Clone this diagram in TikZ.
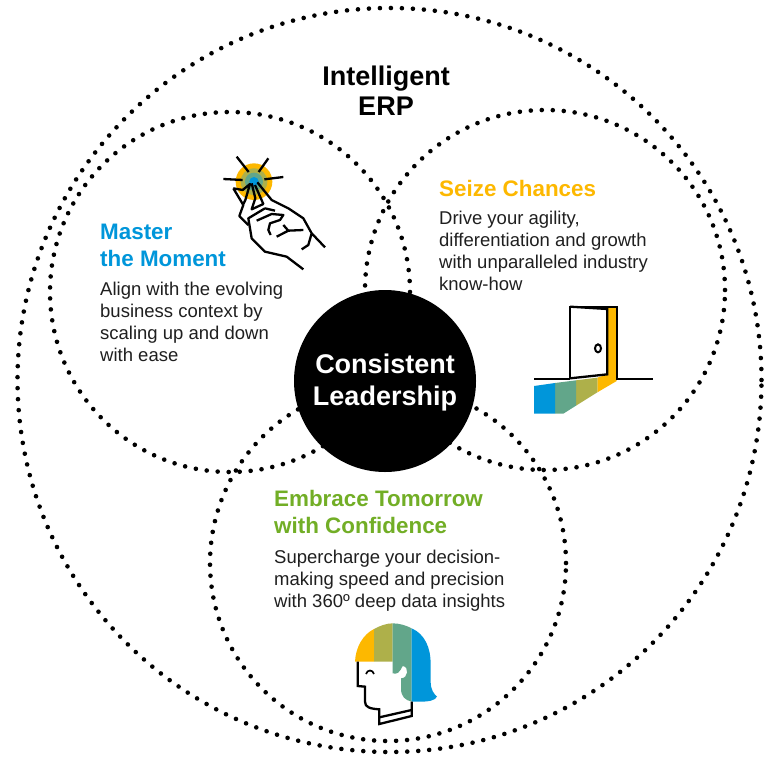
\documentclass[tikz,border=0pt]{standalone}
\usepackage{fontspec}
\setmainfont{Liberation Sans}
\definecolor{cblue}{HTML}{0096DA}
\definecolor{cteal}{HTML}{62A68A}
\definecolor{colive}{HTML}{AEB04A}
\definecolor{cgold}{HTML}{FDB800}
\definecolor{cgreen}{HTML}{72AE26}
\tikzset{
  dotc/.style={draw=black,line width=4.6pt,line cap=round,dash pattern=on 0pt off 11pt,fill=none,circle,inner sep=0pt,outer sep=0pt},
  ink/.style={draw=black,line width=2.3pt,line join=round,fill=none},
  body/.style={anchor=north west,align=left,font=\fontsize{18.5}{21.8}\selectfont,inner sep=0pt,text=black!88},
  head/.style={anchor=north west,align=left,font=\fontsize{22.4}{27}\selectfont\bfseries,inner sep=0pt},
}
\begin{document}
\begin{tikzpicture}[x=1pt,y=-1pt]
\useasboundingbox (0,0) rectangle (767,757);
\fill[white] (0,0) rectangle (767,757);
% dotted circles
\node[dotc,minimum size=744] (outer) at (389.5,380) {};
\node[dotc,minimum size=360] (master) at (230,292) {};
\node[dotc,minimum size=360] (seize) at (545,290) {};
\node[dotc,minimum size=356] (embrace) at (388,563) {};
% centre
\node[circle,fill=black,minimum size=182,inner sep=0pt] (centre) at (385,381) {};
\node[text=white,inner sep=0pt,align=center,font=\fontsize{27}{32}\selectfont\bfseries] (centretext) at (385,383) {Consistent\\Leadership};
% labels
\node[align=center,inner sep=0pt,font=\fontsize{27}{30}\selectfont\bfseries] (erp) at (386,91) {Intelligent\\ERP};
\node[head,text=cblue] (mh) at (100,224) {Master\\the Moment};
\node[body] (mb) at (100,282) {Align with the evolving\\business context by\\scaling up and down\\with ease};
\node[head,text=cgold] (sh) at (439,180) {Seize Chances};
\node[body] (sb) at (439,211) {Drive your agility,\\differentiation and growth\\with unparalleled industry\\know-how};
\node[head,text=cgreen] (eh) at (274,490) {Embrace Tomorrow\\with Confidence};
\node[body] (eb) at (274,550) {Supercharge your decision-\\making speed and precision\\with 360º deep data insights};
% spark and hand icon
\begin{scope}[shift={(200,140)},scale=1/3]
\fill[cgold] (162,125) circle (55);
\fill[colive] (162,125) circle (40);
\fill[cteal] (162,125) circle (27);
\fill[cblue] (162,125) circle (14);
\draw[ink] (110,50)--(146,96) (205,55)--(176,96) (70,117)--(128,120) (193,118)--(250,111);
\draw[ink] (100,145)--(130,195)--(118,228)--(145,255)
 (100,145)--(128,150)--(150,132)--(136,180)--(128,197)
 (155,130)--(166,175)--(155,208)--(190,192)--(165,135)
 (172,127)--(215,180)--(265,205)--(310,235)--(335,280)--(325,315)--(305,328)
 (335,280)--(375,322)
 (195,205)--(145,235)--(155,295)--(195,335)--(260,350)--(310,388)
 (195,205)--(225,212)
 (170,242)--(215,222)--(250,225)--(240,240)--(210,250)--(205,270)--(212,285)
 (250,255)--(265,272)--(310,270)
 (230,290)--(265,272);
\end{scope}
% door icon
\begin{scope}[shift={(520,295)},scale=1/3]
\fill[cgold] (262,38)--(290,38)--(290,258)--(232,292)--(232,248)--(262,238)--cycle;
\fill[colive] (232,248)--(232,292)--(168,332)--(168,256)--cycle;
\fill[cteal] (168,256)--(168,332)--(130,356)--(105,356)--(105,264)--cycle;
\fill[cblue] (42,273)--(105,264)--(105,356)--(42,356)--cycle;
\draw[ink,line join=miter] (42,253)--(150,253) (290,253)--(400,253);
\draw[ink,line join=miter] (150,253)--(150,35)--(291,35)--(291,255);
\draw[ink,line join=miter] (150,35)--(262,42)--(262,238)--(150,250);
\draw[line width=2pt] (234,160) ellipse (9 and 12);
\end{scope}
% head icon
\begin{scope}[shift={(340,610)},scale=1/3]
\fill[cgold] (45,155) .. controls (47,110) and (70,73) .. (102,57)--(102,155)--cycle;
\fill[colive] (102,57) .. controls (120,47) and (140,40) .. (158,40)--(158,155)--(102,155)--cycle;
\fill[cteal] (158,40) .. controls (178,40) and (198,46) .. (215,55)--(215,275) .. controls (195,270) and (183,260) .. (183,235)--(183,205) .. controls (205,205) and (208,170) .. (188,168) .. controls (180,185) and (172,195) .. (158,190)--cycle;
\fill[cblue] (215,55) .. controls (255,72) and (272,115) .. (272,160)--(272,215) .. controls (272,240) and (282,252) .. (291,260) .. controls (285,272) and (265,275) .. (240,275)--(215,275)--cycle;
\draw[ink,line join=miter] (53,155)--(53,228)--(75,230)--(75,275) .. controls (75,292) and (90,296) .. (118,298)--(118,342)--(215,318)--(215,275);
\draw[ink,line join=miter] (118,322)--(215,300);
\draw[line width=1.7pt] (78,192) .. controls (82,178) and (98,178) .. (102,192);
\end{scope}
\end{tikzpicture}
\end{document}
